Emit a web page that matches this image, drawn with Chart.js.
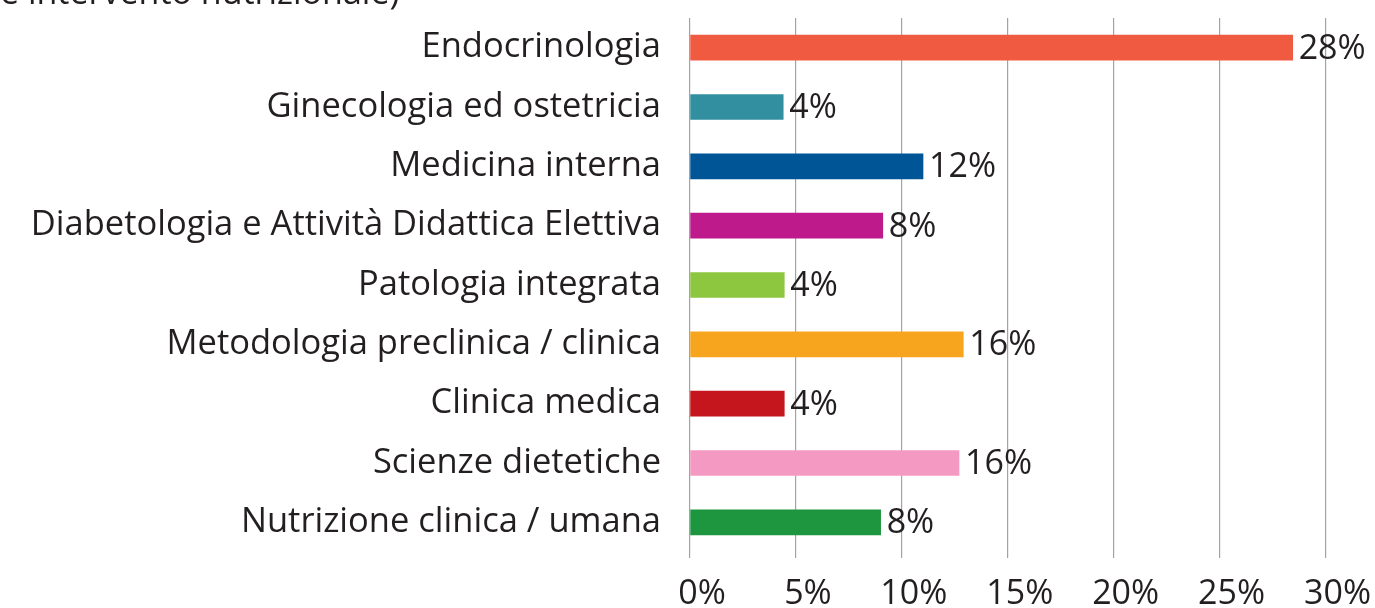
<!DOCTYPE html>
<html>
<head>
<meta charset="utf-8">
<script src="https://cdn.jsdelivr.net/npm/chart.js@4"></script>
<style>
    html, body { margin: 0; padding: 0; background: #fff; overflow: hidden; }
    .wrap { position: relative; width: 1375px; height: 608px; }
    .caption {
        position: absolute; left: 0; top: -26px;
        font-family: "Open Sans", sans-serif; font-size: 34px; line-height: 34px;
        color: #231f20; white-space: nowrap;
    }
</style>
</head>
<body>
<div class="wrap">
    <div class="caption">e intervento nutrizionale)</div>
    <canvas id="myChart" width="1375" height="608"></canvas>
</div>
<script>
const categories = [
    'Endocrinologia',
    'Ginecologia ed ostetricia',
    'Medicina interna',
    'Diabetologia e Attività Didattica Elettiva',
    'Patologia integrata',
    'Metodologia preclinica / clinica',
    'Clinica medica',
    'Scienze dietetiche',
    'Nutrizione clinica / umana'
];
// bar lengths as drawn in the picture
const barValues = [28.45, 4.4, 11.0, 9.1, 4.45, 12.9, 4.45, 12.7, 9.0];
// percentages printed next to the bars
const printedValues = [28, 4, 12, 8, 4, 16, 4, 16, 8];
const barColors = ['#F05A40', '#328FA0', '#005596', '#BE1A8C', '#8DC63F', '#F7A51E', '#C4161C', '#F49AC2', '#1E9640'];
const xMax = 30;
const xStep = 5;

const textColor = '#231f20';
const fontFamily = '"Open Sans", sans-serif';
const fontSize = 34;

const valueLabels = {
    id: 'valueLabels',
    afterDatasetsDraw(chart) {
        const ctx = chart.ctx;
        const meta = chart.getDatasetMeta(0);
        ctx.save();
        ctx.font = fontSize + 'px ' + fontFamily;
        ctx.fillStyle = textColor;
        ctx.textAlign = 'left';
        ctx.textBaseline = 'alphabetic';
        meta.data.forEach((bar, i) => {
            ctx.fillText(printedValues[i] + '%', bar.x + 6, bar.y + 11);
        });
        ctx.restore();
    }
};

const myChart = new Chart(document.getElementById('myChart'), {
    type: 'bar',
    data: {
        labels: categories,
        datasets: [{
            data: barValues,
            backgroundColor: barColors,
            borderWidth: 0,
            barThickness: 25
        }]
    },
    options: {
        indexAxis: 'y',
        responsive: false,
        animation: false,
        layout: { padding: { top: 18, right: 46, bottom: 0, left: 0 } },
        plugins: {
            legend: { display: false },
            tooltip: { enabled: false }
        },
        scales: {
            x: {
                min: 0,
                max: xMax,
                ticks: {
                    stepSize: xStep,
                    callback: (v) => v + '%',
                    color: textColor,
                    font: { family: fontFamily, size: fontSize },
                    padding: 16,
                    labelOffset: 12,
                    maxRotation: 0
                },
                grid: {
                    color: '#a3a3a3',
                    lineWidth: 1.2,
                    tickLength: 6
                },
                border: { display: false },
                afterFit: (s) => { s.height = 56; }
            },
            y: {
                ticks: {
                    color: textColor,
                    font: { family: fontFamily, size: 34.5 },
                    padding: 21
                },
                grid: { display: false },
                border: { display: false },
                afterFit: (s) => {
                    s.width = 690;
                    s.paddingTop = 0;
                    s.paddingBottom = 0;
                }
            }
        }
    },
    plugins: [valueLabels]
});
</script>
</body>
</html>
